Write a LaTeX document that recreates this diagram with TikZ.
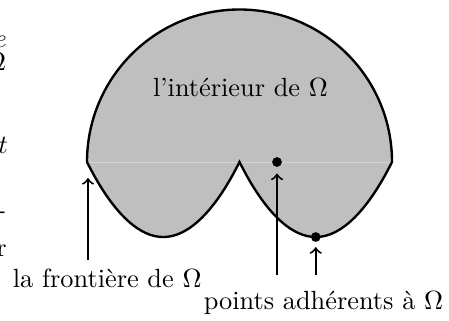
\documentclass[tikz,border=0pt]{standalone}
\begin{document}
\begin{tikzpicture}[x=0.38pt,y=0.38pt,
  outline/.style={line width=0.9pt},
  seam/.style={line width=0.35pt,black!17},
  arr/.style={->,line width=0.75pt},
  lab/.style={inner sep=0pt,anchor=base},
  frag/.style={inner sep=0pt,anchor=base east},
  dot/.style={circle,fill=black,inner sep=0pt,minimum size=3.7pt}]
\useasboundingbox (0,0) rectangle (449,320);
% fragments of text cut by the left edge
\node[frag] (f1) at (7.3,273) {$e$};
\node[frag] (f2) at (6.7,250) {$\Omega$};
\node[frag] (f3) at (8.3,167) {$t$};
\node[frag] (f4) at (6.7,101.5) {-};
\node[frag] (f5) at (7.3,64) {r};
% the set
\coordinate (A) at (87,158);
\coordinate (C) at (239.5,158);
\coordinate (B) at (392,158);
\coordinate (L) at (163.25,83);
\coordinate (R) at (315.75,83);
\fill[lightgray] (A) arc[start angle=180,end angle=0,radius=152.5] -- cycle;
\fill[lightgray] (A) parabola bend (L) (C) parabola bend (R) (B) -- cycle;
\draw[seam] (A) -- (B);
\draw[outline] (A) arc[start angle=180,end angle=0,radius=152.5]
  parabola bend (R) (C) parabola bend (L) (A);
\node[lab] (int) at (240.5,224) {l'intérieur de $\Omega$};
\node[dot] (p1) at (277,158) {};
\node[dot] (p2) at (R) {};
% labels
\node[lab] (fr) at (107.2,33) {la frontière de $\Omega$};
\node[lab] (ad) at (323.5,10.7) {points adhérents à $\Omega$};
% arrows
\coordinate (a1s) at (88,60);
\coordinate (a1t) at (88,142);
\coordinate (a2s) at (277,45);
\coordinate (a3s) at (315.75,45);
\draw[arr] (a1s) -- (a1t);
\draw[arr] (a2s) -- ([yshift=-11.5*0.38pt]p1.center);
\draw[arr] (a3s) -- ([yshift=-1.8pt]p2.south);
\end{tikzpicture}
\end{document}
